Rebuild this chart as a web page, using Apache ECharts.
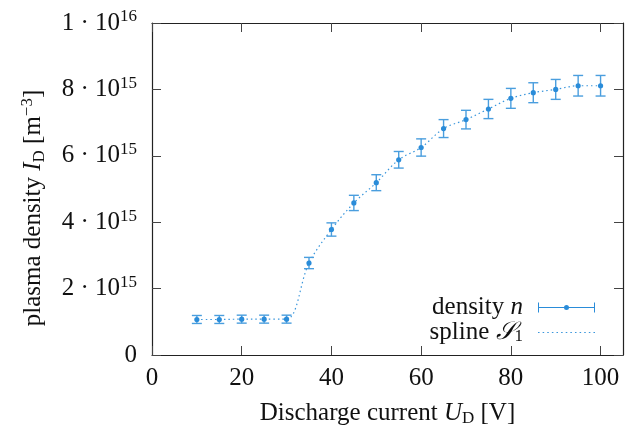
<!DOCTYPE html>
<html><head><meta charset="utf-8">
<script src="https://cdn.jsdelivr.net/npm/echarts@6/dist/echarts.min.js"></script>
<style>html,body{margin:0;padding:0;background:#fff}#c{width:639px;height:432px}</style>
</head><body><div id="c"></div>
<script>
const current = [10,15,20,25,30,35,40,45,50,55,60,65,70,75,80,85,90,95,100];
const density = [1.07e15,1.07e15,1.08e15,1.08e15,1.08e15,2.77e15,3.78e15,4.58e15,5.19e15,5.88e15,6.25e15,6.82e15,7.09e15,7.41e15,7.73e15,7.90e15,8.00e15,8.11e15,8.11e15];
const errors = [0.12e15,0.12e15,0.12e15,0.12e15,0.12e15,0.17e15,0.20e15,0.23e15,0.24e15,0.25e15,0.26e15,0.27e15,0.28e15,0.29e15,0.30e15,0.30e15,0.30e15,0.31e15,0.31e15];
const xTicks = [0,20,40,60,80,100];
const yTicks = [0,2e15,4e15,6e15,8e15,1e16];

const FONT = 'Liberation Serif';
const FS = 25, FSS = 17;
const dotColor = '#2a8cd9';
const barColor = '#4a9ede';

function yLabel(v){
  if (v === 0) return '0';
  const e = Math.floor(Math.log10(v) + 1e-9);
  const m = Math.round(v / Math.pow(10, e));
  return m + ' · 10{sup|' + e + '}';
}

const errData = current.map((x,i)=>[x, density[i], errors[i]]);

let dots = 'path://';
for (let k = 0; k < 57; k += 4.5) dots += 'M' + k + ',0L' + (k+1.5) + ',0L' + (k+1.5) + ',1.2L' + k + ',1.2Z';

const richBase = {
  i:{fontFamily:FONT, fontStyle:'italic', fontSize:FS, color:'#111'},
  s:{fontFamily:FONT, fontStyle:'italic', fontSize:FS, color:'#111'},
  sub:{fontFamily:FONT, fontSize:FSS, color:'#111', verticalAlign:'bottom', padding:[10,0,0,0]},
  sup:{fontFamily:FONT, fontSize:FSS, color:'#111', verticalAlign:'top', padding:[0,0,12,0]}
};

const chart = echarts.init(document.getElementById('c'), null, {renderer:'canvas'});
chart.setOption({
  animation:false,
  grid:{left:152, right:16, top:23, bottom:77, show:false},
  legend:{
    orient:'vertical', right:44, top:295, align:'right', padding:0,
    itemWidth:57, itemHeight:10, itemGap:0,
    textStyle:{fontFamily:FONT, fontSize:FS, color:'#111', lineHeight:25, padding:[0,10,0,0], rich:richBase},
    formatter: function(n){
      if (n === 'density') return 'density {i|n}';
      return 'spline {s|𝒮}{sub|1}';
    },
    data:[
      {name:'density', icon:'path://M0,0L1,0L1,10L0,10ZM56,0L57,0L57,10L56,10ZM0,4.5L57,4.5L57,5.5L0,5.5ZM26,5A2.5,2.5 0 1 1 31,5A2.5,2.5 0 1 1 26,5Z', itemStyle:{color:dotColor}},
      {name:'spline', icon: dots, itemStyle:{color:'#3a96dc'}}
    ]
  },
  xAxis:[{
    type:'value', min:0, max:105, interval:20,
    axisLine:{show:true, onZero:false, lineStyle:{color:'#222', width:1.2}},
    axisTick:{show:true, inside:true, length:9, lineStyle:{color:'#444'}, customValues: xTicks},
    axisLabel:{fontFamily:FONT, fontSize:FS, color:'#111', margin:11, customValues: xTicks},
    splitLine:{show:false},
    name:'Discharge current {i|U}{sub|D} [V]', nameLocation:'middle', nameGap:45,
    nameTextStyle:{fontFamily:FONT, fontSize:FS, color:'#111', rich:richBase}
  },{
    type:'value', position:'top', min:0, max:105, interval:20,
    axisLine:{show:true, onZero:false, lineStyle:{color:'#222', width:1.2}},
    axisTick:{show:true, inside:true, length:9, lineStyle:{color:'#444'}, customValues: xTicks},
    axisLabel:{show:false}, splitLine:{show:false}
  }],
  yAxis:[{
    type:'value', min:0, max:1e16, interval:2e15,
    axisLine:{show:true, onZero:false, lineStyle:{color:'#222', width:1.2}},
    axisTick:{show:true, inside:true, length:9, lineStyle:{color:'#444'}},
    axisLabel:{fontFamily:FONT, fontSize:FS, color:'#111', margin:15, formatter: yLabel, rich:richBase},
    splitLine:{show:false},
    name:'plasma density {i|I}{sub|D} [m{sup|−3}]', nameLocation:'middle', nameGap:104, nameRotate:90,
    nameTextStyle:{fontFamily:FONT, fontSize:FS, color:'#111', padding:[0,38,0,0], rich:richBase}
  },{
    type:'value', position:'right', min:0, max:1e16, interval:2e15,
    axisLine:{show:true, onZero:false, lineStyle:{color:'#222', width:1.2}},
    axisTick:{show:true, inside:true, length:9, lineStyle:{color:'#444'}},
    axisLabel:{show:false}, splitLine:{show:false}
  }],
  series:[
    {
      name:'density', type:'custom', xAxisIndex:0, yAxisIndex:0,
      data: errData, z:3,
      renderItem: function(params, api){
        const x = api.value(0), y = api.value(1), e = api.value(2);
        const top = api.coord([x, y + e]);
        const bot = api.coord([x, y - e]);
        const c = api.coord([x, y]);
        const hw = 5;
        const ls = {stroke: barColor, lineWidth: 1.4};
        return {type:'group', children:[
          {type:'line', shape:{x1:top[0], y1:top[1], x2:bot[0], y2:bot[1]}, style:ls},
          {type:'line', shape:{x1:top[0]-hw, y1:top[1], x2:top[0]+hw, y2:top[1]}, style:ls},
          {type:'line', shape:{x1:bot[0]-hw, y1:bot[1], x2:bot[0]+hw, y2:bot[1]}, style:ls},
          {type:'circle', shape:{cx:c[0], cy:c[1], r:2.6}, style:{fill:dotColor}}
        ]};
      }
    },
    {
      name:'spline', type:'line', xAxisIndex:0, yAxisIndex:0,
      data: current.map((x,i)=>[x, density[i]]),
      smooth:0.35, symbol:'none', z:2,
      lineStyle:{color:'#3a96dc', width:1.2, type:[1.5,3]},
      itemStyle:{color:'#3a96dc'}
    }
  ]
});
</script></body></html>
